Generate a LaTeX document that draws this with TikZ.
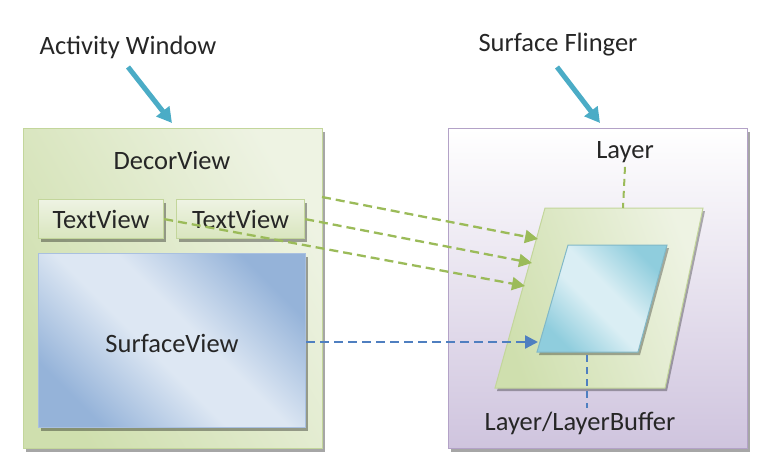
\documentclass[tikz,border=0pt]{standalone}
\usepackage{fontspec}
\setmainfont{Carlito}
\usetikzlibrary{arrows.meta,shadows,calc}
\definecolor{arrteal}{HTML}{4BACC6}
\definecolor{actborder}{HTML}{C3D69B}
\definecolor{actlight}{HTML}{EEF3E3}
\definecolor{actdark}{HTML}{CFDFAE}
\definecolor{svlight}{HTML}{DDE7F3}
\definecolor{svdark}{HTML}{95B3D9}
\definecolor{svborder}{HTML}{A9C0E0}
\definecolor{sfborder}{HTML}{B3A2C7}
\definecolor{sfbottom}{HTML}{CFC4DE}
\definecolor{grnline}{HTML}{9BBB59}
\definecolor{bluline}{HTML}{4F7FC0}
\definecolor{cyanlight}{HTML}{DAEEF4}
\definecolor{cyandark}{HTML}{8FCDDD}
\definecolor{txtcol}{HTML}{262626}
\pgfdeclarehorizontalshading{svshade}{100bp}{color(0bp)=(svdark); color(25bp)=(svdark); color(45bp)=(svlight); color(55bp)=(svlight); color(75bp)=(svdark); color(100bp)=(svdark)}
\pgfdeclarehorizontalshading{cyshade}{100bp}{color(0bp)=(cyandark); color(25bp)=(cyandark); color(45bp)=(cyanlight); color(55bp)=(cyanlight); color(75bp)=(cyandark); color(100bp)=(cyandark)}
\tikzset{
  lbl/.style={text=txtcol, inner sep=0pt},
  bigarrow/.style={draw=arrteal, line width=5pt, -{Triangle[length=15pt,width=16pt]}},
  shad/.style={drop shadow={shadow xshift=2.5pt, shadow yshift=-3pt, fill=black, opacity=0.35}},
  box/.style={anchor=north west, inner sep=0pt, line width=1.2pt},
  grnarrow/.style={draw=grnline, line width=2.3pt, dash pattern=on 9pt off 5pt, -{Triangle[length=13pt,width=13pt]}},
  bluarrow/.style={draw=bluline, line width=2.3pt, dash pattern=on 9pt off 5pt, -{Triangle[length=13pt,width=13pt]}},
  grndash/.style={draw=grnline, line width=2pt, dash pattern=on 7pt off 5pt},
  bludash/.style={draw=bluline, line width=2pt, dash pattern=on 7pt off 5pt},
}
\begin{document}
\begin{tikzpicture}[x=1pt,y=-1pt, font=\fontsize{26.5}{30}\selectfont]
\useasboundingbox (0,0) rectangle (757,466);

% Activity window
\node[box, shad, draw=actborder, left color=actlight, right color=actdark, shading angle=-60, minimum width=299pt, minimum height=320pt] (act) at (23,128) {};
\node[lbl] (decor) at (172,160) {DecorView};
\node[box, shad, draw=actborder, top color=actlight, bottom color=actdark!80, minimum width=125pt, minimum height=39pt] (tv1) at (38,199) {};
\node[lbl] at (tv1.center) {TextView};
\node[box, shad, draw=actborder, top color=actlight, bottom color=actdark!80, minimum width=128pt, minimum height=39pt] (tv2) at (176,199) {};
\node[lbl] at (tv2.center) {TextView};
\node[box, shad, draw=svborder, shading=svshade, shading angle=45, minimum width=267pt, minimum height=174pt] (sv) at (38,253) {};
\node[lbl] (svtext) at (172,343) {SurfaceView};

% Surface flinger
\node[box, shad, draw=sfborder, top color=white, bottom color=sfbottom, minimum width=299pt, minimum height=320pt] (sf) at (448,128) {};
\node[lbl] (layer) at (625,152) {Layer};
\node[lbl] (lbuf) at (580,423) {Layer/LayerBuffer};

% parallelograms
\coordinate (g1) at (545,208); \coordinate (g2) at (703,208);
\coordinate (g3) at (665,388); \coordinate (g4) at (495,388);
\fill[black, opacity=0.3] ($(g1)+(2,3)$) -- ($(g2)+(2,3)$) -- ($(g3)+(2,3)$) -- ($(g4)+(2,3)$) -- cycle;
\shade[left color=actlight, right color=actdark, shading angle=-70, draw=actborder, line width=1pt] (g1) -- (g2) -- (g3) -- (g4) -- cycle;
\coordinate (b1) at (568,245); \coordinate (b2) at (667,245);
\coordinate (b3) at (638,352); \coordinate (b4) at (537,352);
\fill[black, opacity=0.3] ($(b1)+(2,3)$) -- ($(b2)+(2,3)$) -- ($(b3)+(2,3)$) -- ($(b4)+(2,3)$) -- cycle;
\shade[shading=cyshade, shading angle=45, draw=cyandark!90!black, line width=1pt] (b1) -- (b2) -- (b3) -- (b4) -- cycle;

% big arrows
\node[lbl] (actlbl) at (128,47) {Activity Window};
\node[lbl] (sflbl) at (558,45) {Surface Flinger};
\coordinate (a1s) at (128,67); \coordinate (a1e) at (172,123);
\coordinate (a2s) at (557,67); \coordinate (a2e) at (600,123);
\draw[bigarrow] (a1s) -- (a1e);
\draw[bigarrow] (a2s) -- (a2e);

% connectors
\coordinate (s1) at (322,197);
\coordinate (t1) at (538,239);
\coordinate (t2) at (532,263);
\coordinate (t3) at (525,286);
\coordinate (t4) at (538,342);
\draw[grnarrow] (s1) -- (t1);
\draw[grnarrow] (tv2.east) -- (t2);
\draw[grnarrow] (tv1.east) -- (t3);
\draw[bluarrow] (sv.east |- t4) -- (t4);
\coordinate (gtop) at (623,208);
\draw[grndash] (layer.south) ++(0,4) -- (gtop);
\coordinate (bbot) at (587,352);
\coordinate (bend) at (587,408);
\draw[bludash] (bbot) ++(0,3) -- (bend);
\end{tikzpicture}
\end{document}
